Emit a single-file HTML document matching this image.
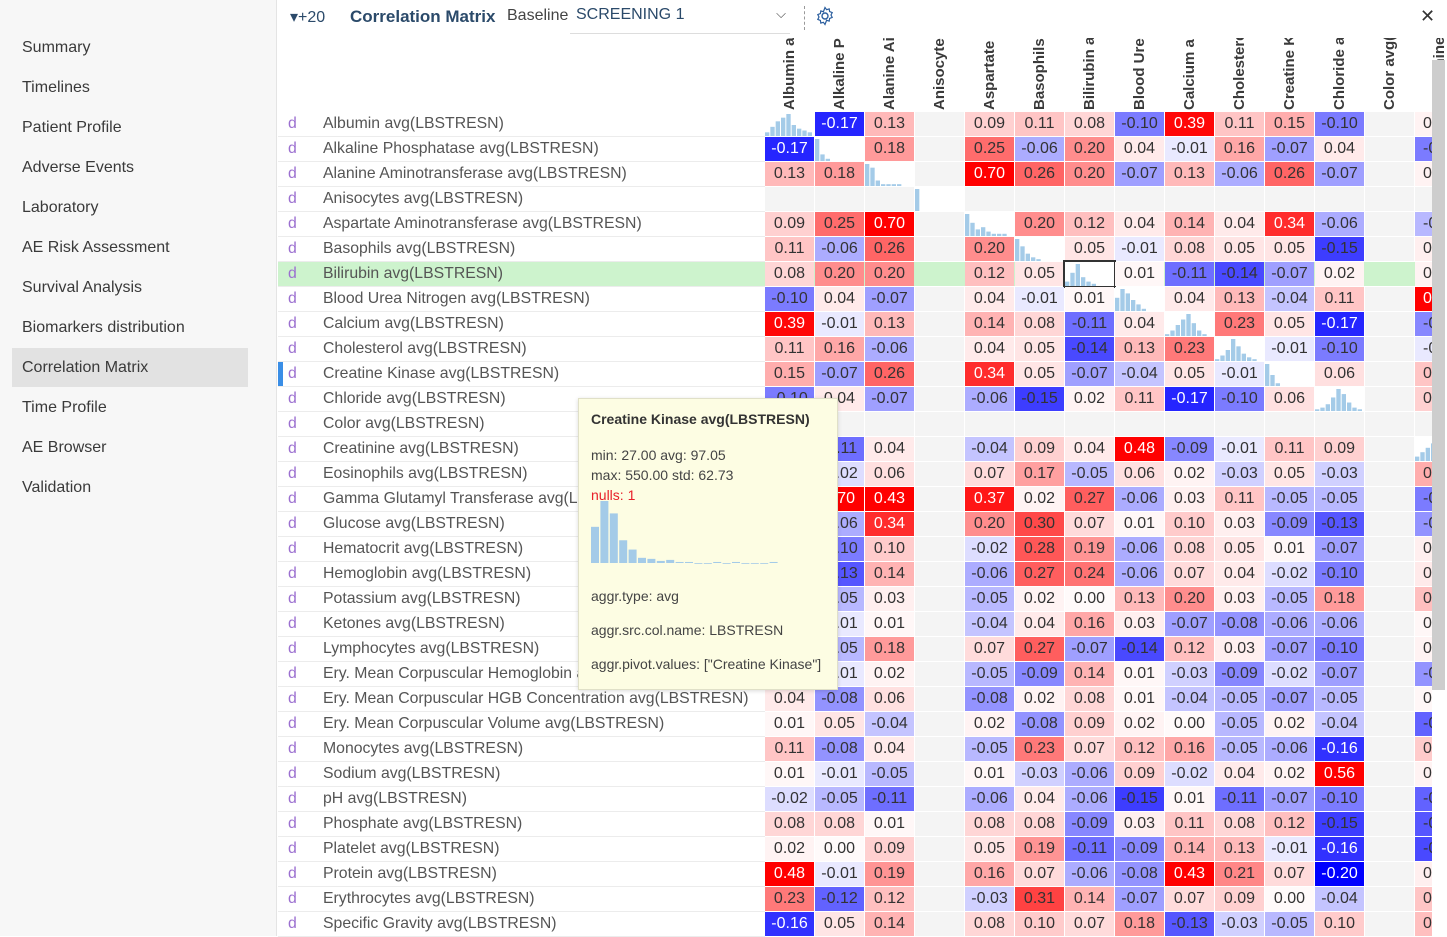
<!DOCTYPE html>
<html><head><meta charset="utf-8">
<style>
*{box-sizing:border-box;margin:0;padding:0}
body{width:1447px;height:936px;overflow:hidden;background:#fff;font-family:"Liberation Sans",sans-serif;position:relative}
#side{position:absolute;left:0;top:0;width:277px;height:936px;background:#f7f7f7;border-right:1px solid #e4e4e4}
.nav{position:absolute;left:12px;width:236px;height:39px;line-height:39px;padding-left:10px;font-size:16px;color:#3a3a3a}
.nav.sel{background:#e2e2e2}
.top{position:absolute;font-size:16px;white-space:nowrap}
.cell{position:absolute;height:24px;line-height:24px;text-align:center;font-size:16px;color:#333;overflow:hidden}
.rl{position:absolute;height:25px;line-height:24px;font-size:15.8px;color:#555;white-space:nowrap;border-bottom:1px solid #ececec}
.ch{position:absolute;transform:rotate(-90deg);transform-origin:left top;font-size:15px;font-weight:bold;color:#3a3a3a;white-space:nowrap;width:72px;overflow:hidden}
#tip{position:absolute;left:578px;top:398px;width:260px;height:292px;background:#fdfde3;border:1px solid #e0e0c8;box-shadow:0 1px 4px rgba(0,0,0,.15);font-size:14px;color:#444;padding:0 12px}
</style></head><body>
<div id="side"></div>
<div class="top" style="left:290px;top:7px;color:#2b4a6a">▾+20</div>
<div class="top" style="left:350px;top:7px;font-weight:bold;font-size:17px;color:#2b4a6a">Correlation Matrix</div>
<div class="top" style="left:507px;top:7px;color:#444">Baseline</div>
<div class="top" style="left:570px;top:6px;width:220px;height:28px;border-bottom:1px solid #ddd;color:#2b4a6a;padding-left:6px">SCREENING 1<span style="position:absolute;right:4px;top:0;color:#444;font-size:13px">⌵</span></div>
<div style="position:absolute;left:804px;top:6px;height:24px;border-left:1px dashed #999"></div>
<svg style="position:absolute;left:815px;top:6px" width="20" height="20" viewBox="0 0 20 20"><circle cx="10" cy="10" r="3" fill="none" stroke="#2b5e9e" stroke-width="1.4"/><path d="M10 1.5l1.6 2.2 2.6-.8.4 2.7 2.6 1-1.2 2.4 1.2 2.4-2.6 1-.4 2.7-2.6-.8L10 18.5l-1.6-2.2-2.6.8-.4-2.7-2.6-1L4 11 2.8 8.6l2.6-1 .4-2.7 2.6.8z" fill="none" stroke="#2b5e9e" stroke-width="1.2"/></svg>
<div class="top" style="left:1420px;top:6px;font-size:18px;color:#333">✕</div>
<div id="grid"></div>
<div style="position:absolute;left:1432px;top:60px;width:13px;height:630px;background:#cdcdcd"></div>
<div style="position:absolute;left:278px;top:362px;width:5px;height:24px;background:#3a8ee6"></div>
<div id="tip">
<div style="position:absolute;left:12px;top:12px;font-weight:bold;color:#333">Creatine Kinase avg(LBSTRESN)</div>
<div style="position:absolute;left:12px;top:46px;line-height:20px">min: 27.00 avg: 97.05<br>max: 550.00 std: 62.73<br><span style="color:#e8202a">nulls: 1</span></div>
<svg id="tiphist" style="position:absolute;left:12px;top:100px" width="200" height="70"></svg>
<div style="position:absolute;left:12px;top:189px">aggr.type: avg</div>
<div style="position:absolute;left:12px;top:223px">aggr.src.col.name: LBSTRESN</div>
<div style="position:absolute;left:12px;top:257px">aggr.pivot.values: ["Creatine Kinase"]</div>
</div>
<script>
const navItems=["Summary","Timelines","Patient Profile","Adverse Events","Laboratory","AE Risk Assessment","Survival Analysis","Biomarkers distribution","Correlation Matrix","Time Profile","AE Browser","Validation"];
const colNames=["Albumin a","Alkaline P","Alanine Ai","Anisocyte","Aspartate","Basophils","Bilirubin a","Blood Ure","Calcium a","Cholesterd","Creatine K","Chloride a","Color avg(","Creatinine"];
const rowNames=["Albumin","Alkaline Phosphatase","Alanine Aminotransferase","Anisocytes","Aspartate Aminotransferase","Basophils","Bilirubin","Blood Urea Nitrogen","Calcium","Cholesterol","Creatine Kinase","Chloride","Color","Creatinine","Eosinophils","Gamma Glutamyl Transferase","Glucose","Hematocrit","Hemoglobin","Potassium","Ketones","Lymphocytes","Ery. Mean Corpuscular Hemoglobin","Ery. Mean Corpuscular HGB Concentration","Ery. Mean Corpuscular Volume","Monocytes","Sodium","pH","Phosphate","Platelet","Protein","Erythrocytes","Specific Gravity"];
const N=null,H="H";
const corr=[
[H,-0.17,0.13,N,0.09,0.11,0.08,-0.10,0.39,0.11,0.15,-0.10,N,0.02],
[-0.17,H,0.18,N,0.25,-0.06,0.20,0.04,-0.01,0.16,-0.07,0.04,N,-0.10],
[0.13,0.18,H,N,0.70,0.26,0.20,-0.07,0.13,-0.06,0.26,-0.07,N,0.02],
[N,N,N,H,N,N,N,N,N,N,N,N,N,N],
[0.09,0.25,0.70,N,H,0.20,0.12,0.04,0.14,0.04,0.34,-0.06,N,-0.05],
[0.11,-0.06,0.26,N,0.20,H,0.05,-0.01,0.08,0.05,0.05,-0.15,N,0.03],
[0.08,0.20,0.20,N,0.12,0.05,H,0.01,-0.11,-0.14,-0.07,0.02,N,0.02],
[-0.10,0.04,-0.07,N,0.04,-0.01,0.01,H,0.04,0.13,-0.04,0.11,N,0.48],
[0.39,-0.01,0.13,N,0.14,0.08,-0.11,0.04,H,0.23,0.05,-0.17,N,-0.09],
[0.11,0.16,-0.06,N,0.04,0.05,-0.14,0.13,0.23,H,-0.01,-0.10,N,-0.01],
[0.15,-0.07,0.26,N,0.34,0.05,-0.07,-0.04,0.05,-0.01,H,0.06,N,0.11],
[-0.10,0.04,-0.07,N,-0.06,-0.15,0.02,0.11,-0.17,-0.10,0.06,H,N,0.09],
[N,N,N,N,N,N,N,N,N,N,N,N,N,N],
[0.02,-0.11,0.04,N,-0.04,0.09,0.04,0.48,-0.09,-0.01,0.11,0.09,N,H],
[0.08,-0.02,0.06,N,0.07,0.17,-0.05,0.06,0.02,-0.03,0.05,-0.03,N,0.15],
[0.05,0.70,0.43,N,0.37,0.02,0.27,-0.06,0.03,0.11,-0.05,-0.05,N,-0.10],
[0.06,-0.06,0.34,N,0.20,0.30,0.07,0.01,0.10,0.03,-0.09,-0.13,N,-0.08],
[0.10,-0.10,0.10,N,-0.02,0.28,0.19,-0.06,0.08,0.05,0.01,-0.07,N,0.03],
[0.11,-0.13,0.14,N,-0.06,0.27,0.24,-0.06,0.07,0.04,-0.02,-0.10,N,0.04],
[0.04,-0.05,0.03,N,-0.05,0.02,0.00,0.13,0.20,0.03,-0.05,0.18,N,0.12],
[0.03,-0.01,0.01,N,-0.04,0.04,0.16,0.03,-0.07,-0.08,-0.06,-0.06,N,0.01],
[0.05,-0.05,0.18,N,0.07,0.27,-0.07,-0.14,0.12,0.03,-0.07,-0.10,N,0.02],
[-0.04,-0.01,0.02,N,-0.05,-0.09,0.14,0.01,-0.03,-0.09,-0.02,-0.07,N,-0.08],
[0.04,-0.08,0.06,N,-0.08,0.02,0.08,0.01,-0.04,-0.05,-0.07,-0.05,N,0.01],
[0.01,0.05,-0.04,N,0.02,-0.08,0.09,0.02,-0.00,-0.05,0.02,-0.04,N,-0.12],
[0.11,-0.08,0.04,N,-0.05,0.23,0.07,0.12,0.16,-0.05,-0.06,-0.16,N,0.10],
[0.01,-0.01,-0.05,N,0.01,-0.03,-0.06,0.09,-0.02,0.04,0.02,0.56,N,0.02],
[-0.02,-0.05,-0.11,N,-0.06,0.04,-0.06,-0.15,0.01,-0.11,-0.07,-0.10,N,-0.12],
[0.08,0.08,0.01,N,0.08,0.08,-0.09,0.03,0.11,0.08,0.12,-0.15,N,-0.13],
[0.02,0.00,0.09,N,0.05,0.19,-0.11,-0.09,0.14,0.13,-0.01,-0.16,N,-0.14],
[0.48,-0.01,0.19,N,0.16,0.07,-0.06,-0.08,0.43,0.21,0.07,-0.20,N,0.03],
[0.23,-0.12,0.12,N,-0.03,0.31,0.14,-0.07,0.07,0.09,-0.00,-0.04,N,0.11],
[-0.16,0.05,0.14,N,0.08,0.10,0.07,0.18,-0.13,-0.03,-0.05,0.10,N,0.12]];
const diagHist=[[2,5,8,10,12,6,4,3,2],[10,3,1,0,0,0,0,0,0],[12,10,3,1,1,1,1,0,0],[14,0,0,0,0,0,0,0,0],[10,6,3,4,2,1,1,1,0],[12,8,4,2,1,0,0,0,0],[2,6,10,4,2,1,0,0,0],[6,10,8,5,3,1,0,0,0],[1,3,6,9,12,7,3,1,0],[1,3,6,12,8,4,2,1,0],[8,4,1,0,0,0,0,0,0],[1,2,4,8,13,10,5,2,1],[],[2,4,6,8,10,6,3,1,0]];
const tipHist=[35,60,48,22,13,5,4,2,3,1,1,0,0,1,0,1,0,0,0,1];
const nav=document.body;
navItems.forEach((t,i)=>{const d=document.createElement('div');d.className='nav'+(t==="Correlation Matrix"?' sel':'');d.style.top=(28+40*i)+'px';d.textContent=t;


nav.appendChild(d);});
const g=document.getElementById('grid');
const X0=765,CW=50,Y0=112,RH=25;
const xPos=c=>X0+c*CW, yPos=r=>Y0+r*RH;
function color(v){const a=Math.abs(v);if(v>=0){const t=Math.pow(Math.min(1,a/0.4),1.2);return [255,Math.round(250-250*t),Math.round(250-250*t),t];}
const t=Math.min(1,a/0.2);return [Math.round(245-245*t),Math.round(245-245*t),255,t];}
colNames.forEach((n,c)=>{const d=document.createElement('div');d.className='ch';d.style.left=(xPos(c)+16)+'px';d.style.top='110px';d.textContent=n;


g.appendChild(d);});
rowNames.forEach((n,r)=>{const y=yPos(r);
const row=document.createElement('div');row.className='rl';row.style.left='278px';row.style.top=y+'px';row.style.width='487px';
if(r===6)row.style.background='#cdf3cd';
row.innerHTML='<span style="position:absolute;left:10px;color:#9b6fd0">d</span><span style="position:absolute;left:45px">'+n+' avg(LBSTRESN)</span>';


g.appendChild(row);
if(r===6){const b=document.createElement('div');b.style.cssText='position:absolute;left:765px;top:'+y+'px;width:667px;height:24px;background:#cdf3cd';


g.appendChild(b);}
corr[r].forEach((v,c)=>{const x=xPos(c);const w=Math.min(CW-1,1432-x);if(w<=0)return;
const d=document.createElement('div');d.className='cell';d.style.left=x+'px';d.style.top=y+'px';d.style.width=w+'px';


if(v===N){d.style.background=r===6?'#cdf3cd':'#f4f4f4';}
else if(v===H){d.style.background='#fff';if(r===6)d.style.outline='2px solid #333';
const h=diagHist[c]||[];let s='<svg width="'+w+'" height="24">';const bw=48/Math.max(h.length,1);const mx=Math.max(1,...h);
h.forEach((hv,i)=>{const bh=hv/mx*22;s+='<rect x="'+(i*bw)+'" y="'+(24-bh)+'" width="'+(bw-1)+'" height="'+bh+'" fill="#a4cbe8"/>';});d.innerHTML=s+'</svg>';}
else{const [R,G,B,t]=color(v);d.style.background='rgb('+R+','+G+','+B+')';if(t>0.78)d.style.color='#fff';d.textContent=v.toFixed(2);if(w<45){d.style.textAlign='left';d.style.paddingLeft='8px';}}
g.appendChild(d);});
});
const th=document.getElementById('tiphist');const tmx=Math.max(...tipHist);
tipHist.forEach((v,i)=>{const h=v/tmx*62;const r=document.createElementNS('http://www.w3.org/2000/svg','rect');
r.setAttribute('x',i*9.4);r.setAttribute('y',64-h);r.setAttribute('width',8);r.setAttribute('height',Math.max(h,0.8));r.setAttribute('fill','#a4cbe8');


th.appendChild(r);});
</script>
</body></html>
